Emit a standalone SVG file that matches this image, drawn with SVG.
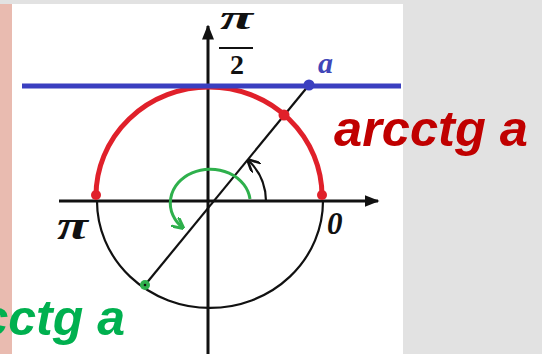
<svg xmlns="http://www.w3.org/2000/svg" width="542" height="354" viewBox="0 0 542 354">
<defs>
<style>
.ax{stroke:#111;stroke-width:3;fill:none}
.thin{stroke:#111;stroke-width:2.2;fill:none}
.lbl{font-family:"Liberation Serif",serif;font-style:italic;font-weight:bold;fill:#111}
.big{font-family:"Century Gothic","Liberation Sans",sans-serif;font-style:italic;font-weight:bold;font-size:50px}
</style>
<marker id="ah" viewBox="0 0 10 10" refX="9" refY="5" markerWidth="5" markerHeight="5" orient="auto" markerUnits="strokeWidth"><path d="M0,1 L10,5 L0,9 z" fill="#111"/></marker>
<marker id="ahs" viewBox="0 0 10 10" refX="9" refY="5" markerWidth="6" markerHeight="6" orient="auto" markerUnits="strokeWidth"><path d="M0,0 L10,5 L0,10" fill="none" stroke="#111" stroke-width="2"/></marker>
<marker id="ahg" viewBox="0 0 10 10" refX="9" refY="5" markerWidth="4" markerHeight="4" orient="auto" markerUnits="strokeWidth"><path d="M0,0 L10,5 L0,10" fill="none" stroke="#2eb04c" stroke-width="2.5"/></marker>
</defs>
<rect width="542" height="354" fill="#e2e2e2"/>
<rect x="0" y="4" width="12" height="350" fill="#e9bbb0"/>
<rect x="12" y="4" width="391" height="350" fill="#ffffff"/>
<g id="connectors">
<path id="axis-x" class="ax" d="M59,201 H378" marker-end="url(#ah)"/>
<path id="axis-y" class="ax" d="M208,354 V26" marker-end="url(#ah)"/>
<path id="lower-circle" class="thin" d="M97,201 A112,106 0 0 0 323,201"/>
<path id="upper-arc" d="M96,196 A113,109 0 0 1 322,196" fill="none" stroke="#e0202a" stroke-width="5"/>
<path id="tangent" d="M22,86 H401" stroke="#3a3fc0" stroke-width="5"/>
<path id="ray" class="thin" d="M145,285 L309,85"/>
<path id="small-angle" class="thin" d="M266,201 A57,57 0 0 0 248,160" marker-end="url(#ahs)"/>
<path id="green-angle" d="M250,199 A40,34 0 1 0 183,228" fill="none" stroke="#2eb04c" stroke-width="3" marker-end="url(#ahg)"/>
</g>
<g id="point-a"><circle cx="309" cy="85" r="5.5" fill="#3a3fc0"/><text class="lbl" x="318" y="73" font-size="30" style="fill:#4046b8">a</text></g>
<g id="point-red"><circle cx="284" cy="115" r="5.5" fill="#e0202a"/></g>
<g id="point-pi"><circle cx="96" cy="195" r="5" fill="#e0202a"/><text class="lbl" x="57" y="239" font-size="40" textLength="31" lengthAdjust="spacingAndGlyphs">π</text></g>
<g id="point-zero"><circle cx="322" cy="195" r="5" fill="#e0202a"/><text class="lbl" x="327" y="234" font-size="31">0</text></g>
<g id="point-green"><circle cx="145" cy="285" r="5" fill="#2eb04c"/><circle cx="145" cy="285" r="1.3" fill="#111"/></g>
<g id="label-pi2"><text class="lbl" x="220" y="29" font-size="34" textLength="33" lengthAdjust="spacingAndGlyphs">π</text><path d="M219,48 H253" stroke="#111" stroke-width="1.8"/><text class="lbl" x="237" y="74" font-size="28" text-anchor="middle" style="font-style:normal">2</text></g>
<g id="label-arcctg"><text class="big" x="334" y="146" fill="#c00000" textLength="194" lengthAdjust="spacingAndGlyphs">arcctg a</text></g>
<g id="label-green"><text class="big" x="125" y="335" text-anchor="end" fill="#00b04f">arcctg a</text></g>
</svg>
